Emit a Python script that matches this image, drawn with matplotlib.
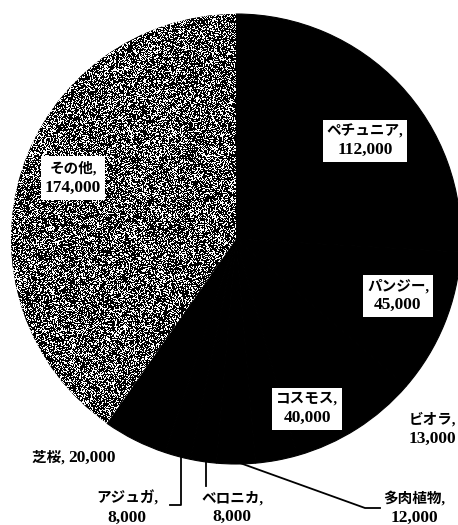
import numpy as np
import matplotlib.pyplot as plt
from matplotlib.offsetbox import TextArea, VPacker, HPacker, AnnotationBbox

plt.rcParams['font.family'] = ['Liberation Serif', 'Noto Sans CJK JP']
plt.rcParams['font.weight'] = 'bold'

# 品種別の数量（12時から時計回り）
names = ['ペチュニア', 'パンジー', 'コスモス', 'ビオラ', '多肉植物',
         'ベロニカ', 'アジュガ', '芝桜', 'その他']
values = [112000, 45000, 40000, 13000, 12000, 8000, 8000, 20000, 174000]
colors = ['black'] * 8 + ['#777777']

W, H = 458, 525
fig = plt.figure(figsize=(W / 100, H / 100), dpi=100)
ax = fig.add_axes([0, 0, 1, 1])

cx, cy, r = 236, 239, 225
wedges, _ = ax.pie(values, colors=colors, startangle=90, counterclock=False,
                   center=(cx, cy), radius=r, frame=True,
                   wedgeprops=dict(linewidth=0.8, edgecolor='black'))
ax.set_xlim(0, W)
ax.set_ylim(H, 0)
ax.set_aspect('equal')
ax.axis('off')

# y軸を反転しているので角度を上下反転
for w in wedges:
    t1, t2 = w.theta1, w.theta2
    w.set_theta1(-t2)
    w.set_theta2(-t1)
wedges[-1].set_linewidth(0)

# その他：スキャン風の砂目
rng = np.random.default_rng(3)
noise = (rng.random((H, W)) < 0.36).astype(float)
im = ax.imshow(noise, cmap='gray', vmin=0, vmax=1, extent=(0, W, H, 0),
               interpolation='nearest', zorder=2)
im.set_clip_path(wedges[-1])

name_props = dict(fontsize=10.5, fontweight='bold')
num_props = dict(fontsize=12.5, fontweight='bold')
box_props = dict(boxstyle='square', fc='white', ec='none')


def label(i, x, y, framed, horizontal=False):
    if horizontal:
        t1 = TextArea(f'{names[i]}, ', textprops=name_props)
        t2 = TextArea(f'{values[i]:,}', textprops=num_props)
        pack = HPacker(children=[t1, t2], align='baseline', pad=0, sep=0)
    else:
        t1 = TextArea(f'{names[i]},', textprops=name_props)
        t2 = TextArea(f'{values[i]:,}', textprops=num_props)
        pack = VPacker(children=[t1, t2], align='center', pad=0, sep=3)
    ab = AnnotationBbox(pack, (x, y), xycoords='data', frameon=framed,
                        pad=0.35, zorder=5, bboxprops=box_props)
    ax.add_artist(ab)


label(0, 365, 141, True)
label(1, 398, 296, True)
label(2, 307, 409, True)
label(8, 73, 178, True)
label(3, 432, 429, False)
label(4, 414, 508, False)
label(5, 232, 508, False)
label(6, 127, 508, False)
label(7, 74, 458, False, horizontal=True)

# 引出線
ax.plot([181, 181, 170], [457, 505, 505], color='black', lw=1.3, zorder=4)
ax.plot([206, 206], [461, 486], color='black', lw=1.3, zorder=4)
ax.plot([240, 365, 380], [463, 508, 508], color='black', lw=1.3, zorder=4)

fig.savefig('out.png', dpi=100)
